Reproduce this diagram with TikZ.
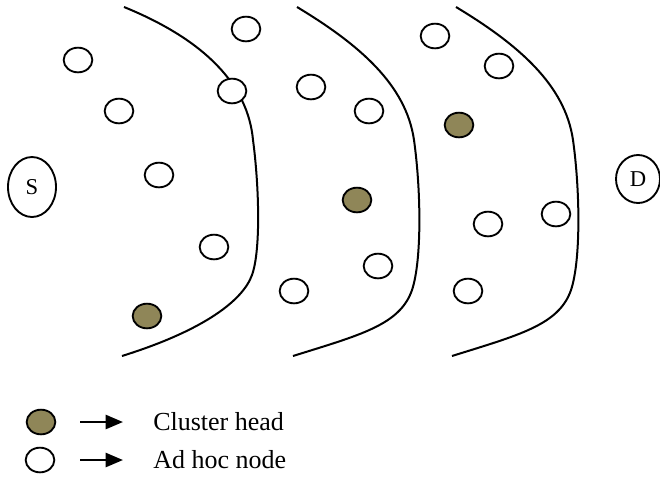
\documentclass[tikz,border=0pt]{standalone}
\usepackage{fontspec}
\setmainfont{Liberation Serif}
\usetikzlibrary{arrows.meta,shapes.geometric}
\definecolor{headfill}{RGB}{143,134,88}
\begin{document}
\begin{tikzpicture}[x=0.75pt,y=-0.75pt,
  adhoc/.style={draw,ellipse,line width=1.4pt,minimum width=21.5pt,minimum height=18.5pt,inner sep=0pt,fill=white},
  chead/.style={adhoc,fill=headfill},
  endpt/.style={draw,ellipse,line width=1.4pt,inner sep=0pt,font=\fontsize{17}{19}\selectfont},
  bound/.style={line width=1.5pt},
  legarrow/.style={line width=1.9pt,-{Triangle[length=13pt,width=10.5pt]}},
  legtext/.style={anchor=west,inner sep=0pt,font=\fontsize{19.5}{22}\selectfont}]
\useasboundingbox (0,0) rectangle (660,500);
% boundaries
\draw[bound] (124,7) .. controls (205,40) and (248,85) .. (253,140)
  .. controls (259,185) and (261,250) .. (252,275)
  .. controls (243,300) and (205,330) .. (122,356);
\draw[bound] (297,7) .. controls (360,45) and (406,85) .. (414,140)
  .. controls (421,190) and (422,260) .. (412,290)
  .. controls (400,325) and (360,335) .. (293,356);
\draw[bound] (456,7) .. controls (519,45) and (565,85) .. (573,140)
  .. controls (580,190) and (581,260) .. (571,290)
  .. controls (559,325) and (519,335) .. (452,356);
% end points
\node[endpt,minimum width=36pt,minimum height=45pt] (S) at (32,187) {S};
\node[endpt,minimum width=33pt,minimum height=36pt] (D) at (638,179) {D};
% ad hoc nodes
\node[adhoc] (a1) at (78,60) {};
\node[adhoc] (a2) at (246,29) {};
\node[adhoc] (a3) at (119,111) {};
\node[adhoc] (a4) at (232,91) {};
\node[adhoc] (a5) at (159,175) {};
\node[adhoc] (a6) at (214,247) {};
\node[adhoc] (a7) at (311,87) {};
\node[adhoc] (a8) at (369,111) {};
\node[adhoc] (a9) at (294,291) {};
\node[adhoc] (a10) at (378,266) {};
\node[adhoc] (a11) at (435,36) {};
\node[adhoc] (a12) at (499,66) {};
\node[adhoc] (a13) at (488,224) {};
\node[adhoc] (a14) at (556,214) {};
\node[adhoc] (a15) at (468,291) {};
% cluster heads
\node[chead] (h1) at (147,316) {};
\node[chead] (h2) at (357,200) {};
\node[chead] (h3) at (459,125) {};
% legend
\node[chead] (lh) at (41,422) {};
\node[adhoc] (la) at (40,460) {};
\coordinate (lh1) at (80,422);
\coordinate (lh2) at (123,422);
\coordinate (la1) at (80,460);
\coordinate (la2) at (123,460);
\draw[legarrow] (lh1) -- (lh2);
\draw[legarrow] (la1) -- (la2);
\node[legtext] (t1) at (153,422) {Cluster head};
\node[legtext] (t2) at (153,460) {Ad hoc node};
\end{tikzpicture}
\end{document}
